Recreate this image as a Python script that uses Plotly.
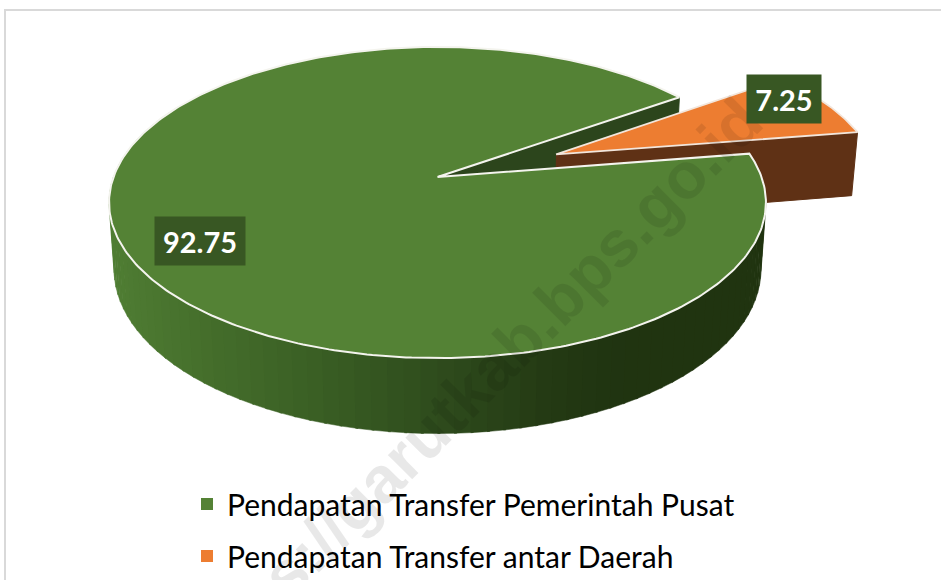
import numpy as np
import plotly.graph_objects as go

# ---- data ----
categories = ["Pendapatan Transfer Pemerintah Pusat", "Pendapatan Transfer antar Daerah"]
values = [92.75, 7.25]
value_labels = ["92.75", "7.25"]
watermark = "https://garutkab.bps.go.id"

# ---- style / geometry ----
W, H = 941, 580
GREEN, ORANGE = "#548235", "#ed7d31"
CUT_GREEN, BROWN = "#2c451c", "#5f3115"
LABEL_BG = "#385723"
FONT = "Lato"
CX, CY, A, B = 437.5, 177.0, 324.0, 151.4   # pie centre and radii on the page
K, M, Q = 0.164, 0.015, 0.442               # perspective, depth shrink, thickness
ORANGE_END = 35.2                           # angle (deg) where the orange slice ends
EXPLODE = 0.405
SIDE_STOPS_X = [113, 220, 300, 440, 550, 620, 770]
SIDE_STOPS_RGB = [(80, 126, 52), (68, 109, 43), (60, 98, 38), (47, 76, 29), (36, 58, 20), (32, 52, 17), (32, 52, 16)]


def project(X, Y, z=0.0):
    X, Y, z = np.asarray(X, float), np.asarray(Y, float), np.asarray(z, float)
    s = 1.0 / (1.0 + K * Y + M * z)
    return CX + A * X * s, CY - B * (Y - Q * z) * s


def circ(deg):
    t = np.radians(deg)
    return np.cos(t), np.sin(t)


def poly(x, y, fill, line=None, lw=1.0):
    return go.Scatter(x=list(x), y=list(y), mode="lines", fill="toself", fillcolor=fill,
                      line=dict(color=line or fill, width=lw), hoverinfo="skip", showlegend=False)


total = sum(values)
orange_sweep = values[1] / total * 360
orange_start = ORANGE_END - orange_sweep
green_start, green_end = ORANGE_END, orange_start + 360
mid = np.radians(orange_start + orange_sweep / 2)
ex, ey = EXPLODE * np.cos(mid), EXPLODE * np.sin(mid)

fig = go.Figure()

# cut face of the green slice
cx_, cy_ = circ(green_start)
xs, ys = project([0, cx_, cx_, 0], [0, cy_, cy_, 0], [0, 0, 1, 1])
fig.add_trace(poly(xs, ys, CUT_GREEN))

# green rim, shaded in narrow strips
edges = np.arange(150, 366, 2.5)
for t0, t1 in zip(edges[:-1], edges[1:]):
    ts = np.linspace(t0, t1 + 0.4, 4)
    X, Y = circ(ts)
    xt, yt = project(X, Y, 0)
    xb, yb = project(X, Y, 1)
    xm = float(np.mean(xb))
    rgb = [np.interp(xm, SIDE_STOPS_X, [c[i] for c in SIDE_STOPS_RGB]) for i in range(3)]
    col = "rgb(%d,%d,%d)" % tuple(rgb)
    fig.add_trace(poly(np.r_[xt, xb[::-1]], np.r_[yt, yb[::-1]], col, lw=0.5))

# exploded orange slice: cut face, then top
cx_, cy_ = circ(orange_start)
xs, ys = project(np.array([0, cx_, cx_, 0]) + ex, np.array([0, cy_, cy_, 0]) + ey, [0, 0, 1, 1])
fig.add_trace(poly(xs, ys, BROWN))
ts = np.linspace(orange_start, ORANGE_END, 40)
X, Y = circ(ts)
xs, ys = project(np.r_[0, X, 0] + ex, np.r_[0, Y, 0] + ey)
fig.add_trace(poly(xs, ys, ORANGE, "#f2e6dc", 1.8))

# green top
ts = np.linspace(green_start, green_end, 400)
X, Y = circ(ts)
xs, ys = project(np.r_[0, X, 0], np.r_[0, Y, 0])
fig.add_trace(poly(xs, ys, GREEN, "#f4f4ee", 2))

# legend entries
for name, col in zip(categories, [GREEN, ORANGE]):
    fig.add_trace(go.Scatter(x=[None], y=[None], mode="markers", name=name, legendgroup=name,
                             marker=dict(symbol="square", size=13, color=col)))

annotations = [
    dict(x=468, y=391, text="<b>%s</b>" % watermark, textangle=-45, showarrow=False,
         font=dict(family="Liberation Sans", size=65, color="rgba(0,0,0,0.09)")),
    dict(x=200, y=241, text="<b>%s</b>" % value_labels[0], showarrow=False, width=90, height=48,
         bgcolor=LABEL_BG, font=dict(family=FONT, size=29, color="white"), borderpad=0),
    dict(x=784, y=99, text="<b>%s</b>" % value_labels[1], showarrow=False, width=74, height=48,
         bgcolor=LABEL_BG, font=dict(family=FONT, size=29, color="white"), borderpad=0),
]
for a in annotations:
    a.update(xref="x", yref="y")

fig.update_layout(
    width=W, height=H, autosize=False,
    margin=dict(l=0, r=0, t=0, b=0, pad=0, autoexpand=False),
    paper_bgcolor="white", plot_bgcolor="white",
    xaxis=dict(visible=False, range=[0, W], fixedrange=True),
    yaxis=dict(visible=False, range=[H, 0], fixedrange=True),
    annotations=annotations,
    shapes=[dict(type="rect", xref="x", yref="y", x0=5, y0=10, x1=W + 20, y1=H + 20,
                 line=dict(color="#d9d9d9", width=2), fillcolor="rgba(0,0,0,0)", layer="below")],
    legend=dict(x=187 / W, y=1 - 478 / H, xanchor="left", yanchor="top", bgcolor="rgba(0,0,0,0)",
                font=dict(family=FONT, size=30, color="black"), tracegroupgap=10,
                itemsizing="constant", itemwidth=30),
    showlegend=True,
)

fig.write_html("out.html", config=dict(displayModeBar=False),
               post_script="document.body.style.margin='0';document.body.style.overflow='hidden';")
